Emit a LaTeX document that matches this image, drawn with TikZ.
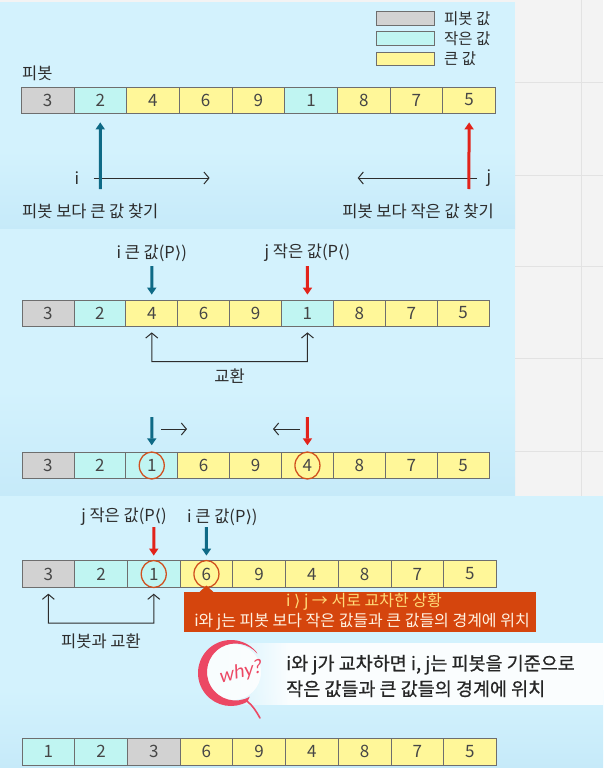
\documentclass[tikz,border=0pt]{standalone}
\usepackage{fontspec}
\setmainfont{Noto Sans CJK KR}
\newfontfamily\djfont{DejaVu Sans}
\newfontfamily\whyfont[FakeSlant=0.2]{Lato}
\newfontfamily\medfont[FakeBold=0.6]{Noto Sans CJK KR}
\usetikzlibrary{arrows.meta,fadings,shapes.geometric,calc}
\definecolor{bgc}{RGB}{211,242,253}
\definecolor{bgd}{RGB}{198,234,249}
\definecolor{graybg}{RGB}{243,243,243}
\definecolor{gridc}{RGB}{226,226,226}
\definecolor{pv}{RGB}{210,210,210}
\definecolor{sm}{RGB}{192,245,242}
\definecolor{lg}{RGB}{255,247,153}
\definecolor{cellb}{RGB}{110,110,110}
\definecolor{txt}{RGB}{70,70,70}
\definecolor{lbc}{RGB}{45,45,45}
\definecolor{tealc}{RGB}{14,106,134}
\definecolor{redc}{RGB}{226,35,26}
\definecolor{circc}{RGB}{208,80,31}
\definecolor{boxc}{RGB}{213,69,13}
\definecolor{boxta}{RGB}{255,218,120}
\definecolor{boxtb}{RGB}{255,242,225}
\definecolor{whyc}{RGB}{236,72,100}
\newcommand\cellrow[6]{%
  \foreach \v/\c [count=\k] in {#6}
    \node[cell, fill=\c, minimum width=#3pt, minimum height=#5pt] (#1\k) at ({#2+(\k-0.5)*#3}, #4) {\v};}
\begin{document}
\begin{tikzpicture}[x=1pt,y=-1pt,
  cell/.style={draw=cellb, line width=0.8pt, inner sep=0pt, text=txt, font=\fontsize{17}{17}\selectfont},
  lbl/.style={text=lbc, inner sep=0pt, font=\fontsize{16.5}{17}\selectfont},
  legbox/.style={draw=cellb, line width=0.8pt, minimum width=58pt, minimum height=13.5pt, inner sep=0pt},
  tarr/.style={draw=tealc, line width=3pt, -{Triangle[width=9pt,length=7pt]}},
  rarr/.style={draw=redc, line width=3pt, -{Triangle[width=9pt,length=7pt]}},
  barb/.style={draw=lbc, line width=1pt, -{Straight Barb[length=5pt,width=12pt]}},
  swapc/.style={draw=lbc, line width=1pt, {Straight Barb[length=5pt,width=12pt]}-{Straight Barb[length=5pt,width=12pt]}},
  circ/.style={draw=circc, line width=1.3pt, ellipse, minimum width=25pt, minimum height=27pt, inner sep=0pt}]
\useasboundingbox (0,0) rectangle (603,768);
% ---------- backgrounds ----------
\fill[graybg] (0,0) rectangle (603,496);
\draw[gridc, line width=0.8pt] (581,0) -- (581,496);
\foreach \gy in {82,175,266,358,451} \draw[gridc, line width=0.8pt] (515,\gy) -- (603,\gy);
\fill[bgc] (0,2) rectangle (515,229);
\shade[top color=bgc, bottom color=bgd] (0,150) rectangle (515,229);
\fill[bgc] (0,229) rectangle (515,496);
\shade[top color=bgc, bottom color=bgd] (0,390) rectangle (515,496);
\fill[bgc] (0,496) rectangle (603,768);
\shade[top color=bgc, bottom color=bgd] (0,690) rectangle (603,768);
% ---------- legend ----------
\node[legbox, fill=pv] (L1) at (405.8,18.3) {};
\node[legbox, fill=sm] (L2) at (405.8,38.3) {};
\node[legbox, fill=lg] (L3) at (405.8,58.8) {};
\node[lbl, anchor=west, font=\fontsize{15.5}{15.5}\selectfont] (L1t) at (444,18.3) {피봇 값};
\node[lbl, anchor=west, font=\fontsize{15.5}{15.5}\selectfont] (L2t) at (444,38.3) {작은 값};
\node[lbl, anchor=west, font=\fontsize{15.5}{15.5}\selectfont] (L3t) at (444,58.8) {큰 값};
% ---------- panel 1 ----------
\node[lbl, anchor=west] (pivt) at (22,73) {피봇};
\cellrow{A}{21.2}{52.7}{100}{26}{3/pv,2/sm,4/lg,6/lg,9/lg,1/sm,8/lg,7/lg,5/lg}
\node[lbl] (iA) at (77,178) {i};
\node[lbl] (jA) at (489,178) {j};
\coordinate (iA0) at (93.5,178);
\coordinate (iA1) at (209.6,178);
\coordinate (jA0) at (477,178);
\coordinate (jA1) at (357.7,178);
\draw[barb] (iA0) -- (iA1);
\draw[barb] (jA0) -- (jA1);
\coordinate (tA) at (100.25,189);
\coordinate (rA) at (468.8,189);
\draw[tarr] (tA) -- ([yshift=-9pt]A2.south);
\draw[rarr] (rA) -- ([yshift=-9pt]A9.south);
\node[lbl, anchor=west] (fA1) at (22,211) {피봇 보다 큰 값 찾기};
\node[lbl, anchor=east] (fA2) at (494,211) {피봇 보다 작은 값 찾기};
% ---------- panel 2 ----------
\cellrow{B}{22}{51.9}{313}{26}{3/pv,2/sm,4/lg,6/lg,9/lg,1/sm,8/lg,7/lg,5/lg}
\node[lbl] (iB) at (151.75,253) {i 큰 값(P{\djfont ⟩})};
\node[lbl] (jB) at (307.45,253) {j 작은 값(P{\djfont ⟨})};
\coordinate (tB) at (151.75,266);
\coordinate (rB) at (307.45,266);
\draw[tarr] (tB) -- ([yshift=5pt]B3.north);
\draw[rarr] (rB) -- ([yshift=5pt]B6.north);
\coordinate (sB1) at (151.75,361.7);
\coordinate (sB2) at (307.45,361.7);
\draw[swapc] ([yshift=-6pt]B3.south) -- (sB1) -- (sB2) -- ([yshift=-6pt]B6.south);
\node[lbl] (swB) at (229.6,376) {교환};
\cellrow{C}{22}{51.9}{465.5}{25.6}{3/pv,2/sm,1/sm,6/lg,9/lg,4/lg,8/lg,7/lg,5/lg}
\coordinate (tC) at (151.75,417);
\coordinate (rC) at (307.45,417);
\draw[tarr] (tC) -- ([yshift=7pt]C3.north);
\draw[rarr] (rC) -- ([yshift=7pt]C6.north);
\coordinate (iC0) at (161,429);
\coordinate (iC1) at (187,429);
\coordinate (jC0) at (300,429);
\coordinate (jC1) at (273,429);
\draw[barb] (iC0) -- (iC1);
\draw[barb] (jC0) -- (jC1);
\node[circ] (oC3) at (C3) {};
\node[circ] (oC6) at (C6) {};
% ---------- panel 3 ----------
\node[lbl, anchor=east] (jD) at (167,517) {j 작은 값(P{\djfont ⟨})};
\node[lbl, anchor=west] (iD) at (187,517) {i 큰 값(P{\djfont ⟩})};
\cellrow{D}{22}{52.7}{574}{26.6}{3/pv,2/sm,1/sm,6/lg,9/lg,4/lg,8/lg,7/lg,5/lg}
\coordinate (rD) at (153.75,527);
\coordinate (tD) at (206.45,527);
\draw[rarr] (rD) -- ([yshift=4.7pt]D3.north);
\draw[tarr] (tD) -- ([yshift=4.7pt]D4.north);
\node[circ] (oD3) at (D3) {};
\node[circ] (oD4) at (D4) {};
\coordinate (sD1) at (48.35,623);
\coordinate (sD2) at (153.75,623);
\draw[swapc] ([yshift=-6pt]D1.south) -- (sD1) -- (sD2) -- ([yshift=-6pt]D3.south);
\node[lbl] (swD) at (101,641) {피봇과 교환};
% callout
\fill[boxc] (199,592.5) -- (206.45,585.5) -- (213.9,592.5) -- cycle;
\node[fill=boxc, minimum width=352pt, minimum height=40pt, inner sep=0pt] (box) at (360,612) {};
\node[inner sep=0pt, text=boxta, font=\fontsize{16}{16}\selectfont] (boxl1) at (364,602) {i {\djfont ⟩} j → 서로 교차한 상황};
\node[inner sep=0pt, text=boxtb, font=\fontsize{16}{16}\selectfont] (boxl2) at (362,622) {i와 j는 피봇 보다 작은 값들과 큰 값들의 경계에 위치};
% why
\fill[white, opacity=0.9, path fading=west] (222,643) rectangle (290,705);
\fill[white, opacity=0.9] (290,643) rectangle (603,705);
\fill[white, opacity=0.85] (233,672) circle[radius=28];
\fill[whyc] ($(231,673)+(-40:33)$) arc[start angle=-40, end angle=-300, radius=33]
   -- ($(235.5,672)+(-300:28.5)$) arc[start angle=-300, end angle=-40, radius=28.5] -- cycle;
\draw[whyc, line width=1.6pt, line cap=round] (247.5,701.5) .. controls (253,706) and (256,711) .. (260,718);
\node[text=whyc, rotate=14, inner sep=0pt, font=\whyfont\fontsize{19}{19}\selectfont] (why) at (240,673) {why?};
\node[anchor=west, align=left, inner sep=0pt, text=black!85, font=\medfont\fontsize{18.5}{25.5}\selectfont] (whyt) at (286,676) {i와 j가 교차하면 i, j는 피봇을 기준으로\\작은 값들과 큰 값들의 경계에 위치};
% final array
\cellrow{E}{22}{52.7}{751.5}{27}{1/sm,2/sm,3/pv,6/lg,9/lg,4/lg,8/lg,7/lg,5/lg}
\end{tikzpicture}
\end{document}
